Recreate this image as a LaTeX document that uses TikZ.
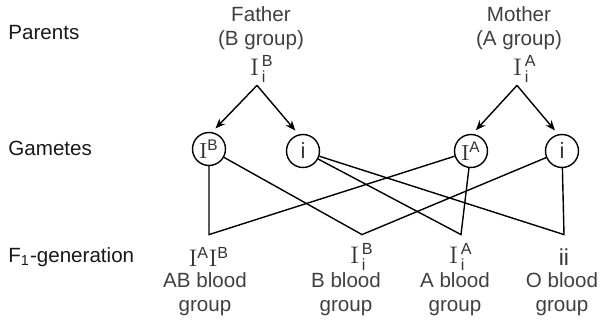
\documentclass[tikz,border=0pt]{standalone}
\usepackage{amsmath}
\usepackage[no-math]{fontspec}
\setmainfont{Liberation Sans}
\usetikzlibrary{arrows.meta}

\newcommand{\genoIsub}[2]{$\mathrm{I}^{\,\text{#1}}_{\,\text{#2}}$}

\begin{document}
\begin{tikzpicture}[x=0.5pt,y=-0.5pt,
  rowlbl/.style={anchor=west,inner sep=0pt,text=black!90,font=\fontsize{10.3}{12}\selectfont},
  txt/.style={align=center,inner sep=0pt,text=black!75,font=\fontsize{10.3}{12}\selectfont},
  gam/.style={draw,circle,minimum size=16.5pt,inner sep=0pt,line width=0.7pt,text=black!80,font=\fontsize{11}{12}\selectfont},
  pgeno/.style={inner sep=0pt,minimum height=16pt,text=black!80,font=\fontsize{11.5}{12}\selectfont},
  ogeno/.style={inner sep=0pt,minimum height=22pt,text=black!80,font=\fontsize{11.5}{12}\selectfont},
  arr/.style={-{Stealth[length=5pt,width=4pt]},line width=0.7pt,shorten >=2.5pt},
  link/.style={line width=0.7pt}
]
  \useasboundingbox (0,0) rectangle (601,320);

  % row labels
  \node[rowlbl] (rowP) at (8,33) {Parents};
  \node[rowlbl] (rowG) at (8,148) {Gametes};
  \node[rowlbl] (rowF) at (8,257) {F\textsubscript{1}-generation};

  % parents
  \node[txt] (fLbl) at (261,28) {Father\\(B group)};
  \node[txt] (mLbl) at (519,28) {Mother\\(A group)};
  \node[pgeno] (fGeno) at (262,69) {\genoIsub{B}{i}};
  \node[pgeno] (mGeno) at (525,69) {\genoIsub{A}{i}};

  % gametes
  \node[gam] (gB) at (209,149) {$\mathrm{I}^{\text{B}}$};
  \node[gam] (gFi) at (303,151) {i};
  \node[gam] (gA) at (471,151) {$\mathrm{I}^{\text{A}}$};
  \node[gam] (gMi) at (562,151) {i};

  \draw[arr] ([xshift=-2.5pt]fGeno.south) -- (gB.80);
  \draw[arr] ([xshift=-2.5pt]fGeno.south) -- (gFi.105);
  \draw[arr] ([xshift=-4pt]mGeno.south) -- (gA.85);
  \draw[arr] ([xshift=-4pt]mGeno.south) -- (gMi.103);

  % F1 generation
  \node[ogeno] (oAB) at (209,257) {$\mathrm{I}^{\text{A}}\mathrm{I}^{\text{B}}$};
  \node[ogeno] (oB) at (362,257) {\genoIsub{B}{i}};
  \node[ogeno] (oA) at (461,257) {\genoIsub{A}{i}};
  \node[ogeno] (oO) at (564,257) {ii};

  \node[txt] (lAB) at (205,294) {AB blood\\group};
  \node[txt] (lB) at (346,294) {B blood\\group};
  \node[txt] (lA) at (455,294) {A blood\\group};
  \node[txt] (lO) at (562,294) {O blood\\group};

  \draw[link] (gB) -- (oAB.north) -- (gA);
  \draw[link] (gB) -- (oB.north) -- (gMi);
  \draw[link] (gFi) -- (oA.north) -- (gA);
  \draw[link] (gFi) -- (oO.north) -- (gMi);
\end{tikzpicture}
\end{document}
